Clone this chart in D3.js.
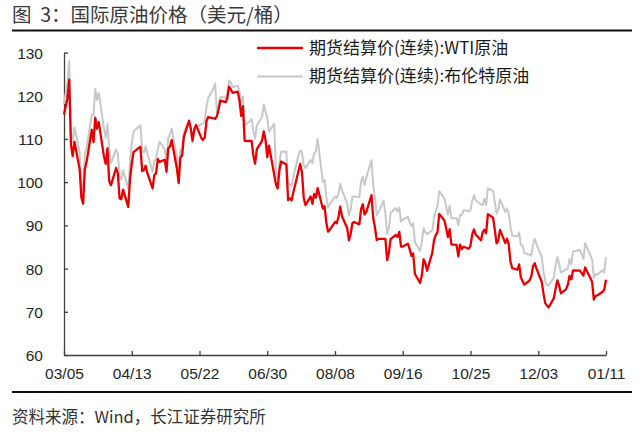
<!DOCTYPE html>
<html lang="zh">
<head>
  <meta charset="UTF-8">
  <title>国际原油价格</title>
  <script src="https://d3js.org/d3.v7.min.js"></script>
  <style>
    body { margin: 0; background: #fff; }
    svg { display: block; font-family: "Liberation Sans", Arial, "Noto Sans CJK SC", sans-serif; }
    .cjk { font-family: "Noto Sans CJK SC", sans-serif; white-space: pre; }
    .axis path, .axis line { stroke: #404040; stroke-width: 1.3px; }
    .axis text { fill: #262626; font-size: 15.5px; }
  </style>
</head>
<body>
  <div id="chart"></div>
  <script>
    const width = 640, height = 434;

    // trading days, 2022-03-04 .. 2023-01-11
    const dates = [
      "2022-03-04","2022-03-07","2022-03-08","2022-03-09","2022-03-10","2022-03-11","2022-03-14","2022-03-15","2022-03-16","2022-03-17","2022-03-18",
      "2022-03-21","2022-03-22","2022-03-23","2022-03-24","2022-03-25","2022-03-28","2022-03-29","2022-03-30","2022-03-31",
      "2022-04-01","2022-04-04","2022-04-05","2022-04-06","2022-04-07","2022-04-08","2022-04-11","2022-04-12","2022-04-13","2022-04-14",
      "2022-04-18","2022-04-19","2022-04-20","2022-04-21","2022-04-22","2022-04-25","2022-04-26","2022-04-27","2022-04-28","2022-04-29",
      "2022-05-02","2022-05-03","2022-05-04","2022-05-05","2022-05-06","2022-05-09","2022-05-10","2022-05-11","2022-05-12","2022-05-13",
      "2022-05-16","2022-05-17","2022-05-18","2022-05-19","2022-05-20","2022-05-23","2022-05-24","2022-05-25","2022-05-26","2022-05-27",
      "2022-05-30","2022-05-31","2022-06-01","2022-06-02","2022-06-03","2022-06-06","2022-06-07","2022-06-08","2022-06-09","2022-06-10",
      "2022-06-13","2022-06-14","2022-06-15","2022-06-16","2022-06-17","2022-06-20","2022-06-21","2022-06-22","2022-06-23","2022-06-24",
      "2022-06-27","2022-06-28","2022-06-29","2022-06-30","2022-07-01","2022-07-04","2022-07-05","2022-07-06","2022-07-07","2022-07-08",
      "2022-07-11","2022-07-12","2022-07-13","2022-07-14","2022-07-15","2022-07-18","2022-07-19","2022-07-20","2022-07-21","2022-07-22",
      "2022-07-25","2022-07-26","2022-07-27","2022-07-28","2022-07-29","2022-08-01","2022-08-02","2022-08-03","2022-08-04","2022-08-05",
      "2022-08-08","2022-08-09","2022-08-10","2022-08-11","2022-08-12","2022-08-15","2022-08-16","2022-08-17","2022-08-18","2022-08-19",
      "2022-08-22","2022-08-23","2022-08-24","2022-08-25","2022-08-26","2022-08-29","2022-08-30","2022-08-31","2022-09-01","2022-09-02",
      "2022-09-05","2022-09-06","2022-09-07","2022-09-08","2022-09-09","2022-09-12","2022-09-13","2022-09-14","2022-09-15","2022-09-16",
      "2022-09-19","2022-09-20","2022-09-21","2022-09-22","2022-09-23","2022-09-26","2022-09-27","2022-09-28","2022-09-29","2022-09-30",
      "2022-10-03","2022-10-04","2022-10-05","2022-10-06","2022-10-07","2022-10-10","2022-10-11","2022-10-12","2022-10-13","2022-10-14",
      "2022-10-17","2022-10-18","2022-10-19","2022-10-20","2022-10-21","2022-10-24","2022-10-25","2022-10-26","2022-10-27","2022-10-28",
      "2022-10-31","2022-11-01","2022-11-02","2022-11-03","2022-11-04","2022-11-07","2022-11-08","2022-11-09","2022-11-10","2022-11-11",
      "2022-11-14","2022-11-15","2022-11-16","2022-11-17","2022-11-18","2022-11-21","2022-11-22","2022-11-23","2022-11-24","2022-11-25",
      "2022-11-28","2022-11-29","2022-11-30","2022-12-01","2022-12-02","2022-12-05","2022-12-06","2022-12-07","2022-12-08","2022-12-09",
      "2022-12-12","2022-12-13","2022-12-14","2022-12-15","2022-12-16","2022-12-19","2022-12-20","2022-12-21","2022-12-22","2022-12-23",
      "2022-12-27","2022-12-28","2022-12-29","2022-12-30","2023-01-03","2023-01-04","2023-01-05","2023-01-06","2023-01-09","2023-01-10",
      "2023-01-11"
    ];

    // 期货结算价(连续):WTI原油 (null = no settlement that day)
    const wti = [
      115.68,119.40,123.70,108.70,106.02,109.33,103.01,96.44,95.04,102.98,104.70,
      112.12,109.27,114.93,112.34,113.90,105.96,104.24,107.82,100.28,
      99.27,103.28,101.96,96.23,96.03,98.26,94.29,100.60,104.25,106.95,
      108.21,102.56,102.75,103.79,102.07,98.54,101.70,102.02,105.36,104.69,
      105.17,102.41,107.81,108.26,109.77,103.09,99.76,105.71,106.13,110.49,
      114.20,112.40,109.59,112.21,113.23,110.29,109.77,110.33,114.09,115.07,
      null,114.67,115.26,116.87,118.87,118.50,119.41,122.11,121.51,120.67,
      120.93,118.93,115.31,117.59,109.56,null,109.52,106.19,104.27,107.62,
      109.57,111.76,109.78,105.76,108.43,null,99.50,98.53,102.73,104.79,
      104.09,95.84,96.30,95.78,97.59,102.60,104.22,102.26,96.35,94.70,
      96.70,94.98,97.26,96.42,98.62,93.89,94.42,90.66,88.54,89.01,
      90.76,90.50,91.93,94.34,92.09,89.41,86.53,87.95,90.50,90.77,
      90.23,93.74,94.89,92.52,93.06,97.01,91.64,89.55,86.61,86.87,
      null,86.88,81.94,83.54,86.79,87.78,87.31,88.48,85.10,85.11,
      85.73,84.45,82.94,83.49,78.74,76.71,78.50,82.15,81.23,79.49,
      83.63,86.52,87.76,88.45,92.64,91.13,89.35,87.27,89.11,85.61,
      85.46,82.82,85.55,84.51,85.05,84.58,85.32,87.91,89.08,87.90,
      86.53,88.37,89.00,88.17,92.61,91.79,88.91,85.83,86.47,88.96,
      85.87,86.92,85.59,81.64,80.08,79.73,80.95,77.94,null,76.28,
      77.24,78.20,80.55,81.22,79.98,76.93,74.25,72.01,71.46,71.02,
      73.17,75.39,77.28,76.11,74.29,75.19,76.23,78.29,77.49,79.56,
      79.53,78.96,78.40,80.26,76.93,72.84,73.67,73.77,74.63,75.12,
      77.41
    ];

    // 期货结算价(连续):布伦特原油
    const brent = [
      118.11,123.21,127.98,111.14,109.33,112.67,106.90,99.91,98.02,106.64,107.93,
      115.62,115.48,121.60,119.03,120.65,112.48,110.23,113.45,107.91,
      104.39,107.53,106.64,101.07,100.58,102.78,98.48,104.64,108.78,111.70,
      113.16,107.25,106.80,108.33,106.65,102.32,104.99,105.32,107.59,109.34,
      107.58,104.97,110.14,111.06,112.39,105.94,102.46,107.51,107.45,111.55,
      114.24,111.93,109.11,112.04,112.55,113.42,113.56,114.03,117.40,119.43,
      121.67,122.84,116.29,117.61,119.72,119.51,120.57,123.58,123.07,122.01,
      122.27,121.17,118.51,119.81,113.12,114.13,114.65,111.74,110.05,113.12,
      115.09,117.98,116.26,114.81,111.63,113.50,102.77,100.69,104.65,107.02,
      107.10,99.49,99.57,99.10,101.16,106.27,107.35,106.92,103.86,103.20,
      105.15,104.40,106.62,107.14,110.01,100.03,100.54,96.78,94.12,94.92,
      96.65,96.31,97.40,99.60,98.15,95.10,92.34,93.65,96.59,96.72,
      96.48,100.22,101.22,99.34,100.99,105.09,99.31,96.49,92.36,93.02,
      95.74,92.83,88.00,89.15,92.84,94.00,93.17,94.10,90.84,91.35,
      92.00,90.62,89.83,90.46,86.15,84.06,86.27,89.32,88.49,87.96,
      88.86,91.80,93.37,94.42,97.92,96.19,94.29,92.45,94.57,91.63,
      91.62,90.03,92.41,92.38,93.50,93.26,93.52,95.69,96.96,95.77,
      94.83,94.65,96.16,94.67,98.57,97.92,95.36,92.65,93.67,95.99,
      93.14,93.86,92.86,89.78,87.62,87.45,88.36,85.41,85.34,83.63,
      83.19,83.03,85.43,86.88,85.57,82.68,79.35,77.17,76.15,76.10,
      77.99,80.68,82.70,81.21,79.04,79.80,79.99,82.20,80.98,83.92,
      84.33,83.26,82.26,85.91,82.10,77.84,78.69,78.57,79.65,79.10,
      82.67
    ];

    const xTickLabels = ["2022-03-05","2022-04-13","2022-05-22","2022-06-30","2022-08-08","2022-09-16","2022-10-25","2022-12-03","2023-01-11"];
    const yTicks = [60, 70, 80, 90, 100, 110, 120, 130];
    const seriesNames = ["期货结算价(连续):WTI原油", "期货结算价(连续):布伦特原油"];
    const seriesColors = ["#e60000", "#c8c8c8"];

    const parse = d3.timeParse("%Y-%m-%d");
    const tickDates = xTickLabels.map(parse);

    const margin = { left: 64, right: 34, top: 52.5, bottom: 79 };

    const x = d3.scaleTime()
      .domain([tickDates[0], tickDates[tickDates.length - 1]])
      .range([margin.left, width - margin.right])
      .clamp(true);

    const y = d3.scaleLinear()
      .domain([60, 130])
      .range([height - margin.bottom, margin.top]);

    const svg = d3.select("#chart").append("svg")
      .attr("width", width)
      .attr("height", height);

    svg.append("rect").attr("width", width).attr("height", height).attr("fill", "#fff");

    // title + rules
    svg.append("text")
      .attr("class", "cjk")
      .attr("x", 12)
      .attr("y", 22)
      .attr("font-size", 19.5)
      .attr("fill", "#3a3a3a")
      .text("图  3：国际原油价格（美元/桶）");

    svg.append("line")
      .attr("x1", 12).attr("x2", 632)
      .attr("y1", 30.5).attr("y2", 30.5)
      .attr("stroke", "#111").attr("stroke-width", 2);

    svg.append("line")
      .attr("x1", 12).attr("x2", 632)
      .attr("y1", 392).attr("y2", 392)
      .attr("stroke", "#111").attr("stroke-width", 2);

    svg.append("text")
      .attr("class", "cjk")
      .attr("x", 12)
      .attr("y", 423)
      .attr("font-size", 16.5)
      .attr("fill", "#333")
      .text("资料来源：Wind，长江证券研究所");

    // axes
    svg.append("g")
      .attr("class", "axis")
      .attr("transform", `translate(${margin.left},0)`)
      .call(d3.axisLeft(y).tickValues(yTicks).tickSize(-4).tickPadding(21).tickSizeOuter(0))
      .call(g => g.selectAll("text").attr("dy", "0.36em"));

    svg.append("g")
      .attr("class", "axis")
      .attr("transform", `translate(0,${height - margin.bottom})`)
      .call(d3.axisBottom(x).tickValues(tickDates).tickFormat(d3.timeFormat("%m/%d")).tickSize(-4).tickPadding(13).tickSizeOuter(0));

    // series
    const rows = dates.map((d, i) => ({ date: parse(d), wti: wti[i], brent: brent[i] }));

    const line = key => d3.line()
      .x(d => x(d.date))
      .y(d => y(d[key]))(rows.filter(d => d[key] != null));

    svg.append("path")
      .attr("d", line("brent"))
      .attr("fill", "none")
      .attr("stroke", seriesColors[1])
      .attr("stroke-width", 2)
      .attr("stroke-linejoin", "round");

    svg.append("path")
      .attr("d", line("wti"))
      .attr("fill", "none")
      .attr("stroke", seriesColors[0])
      .attr("stroke-width", 2.3)
      .attr("stroke-linejoin", "round");

    // legend
    const legend = svg.append("g").attr("transform", "translate(257,48)");
    seriesNames.forEach((name, i) => {
      const row = legend.append("g").attr("transform", `translate(0,${i * 28.5})`);
      row.append("line")
        .attr("x1", 0).attr("x2", 46)
        .attr("stroke", seriesColors[i])
        .attr("stroke-width", i === 0 ? 2.7 : 2);
      row.append("text")
        .attr("class", "cjk")
        .attr("x", 52)
        .attr("dy", "0.35em")
        .attr("font-size", 17)
        .attr("fill", "#1a1a1a")
        .text(name);
    });
  </script>
</body>
</html>
